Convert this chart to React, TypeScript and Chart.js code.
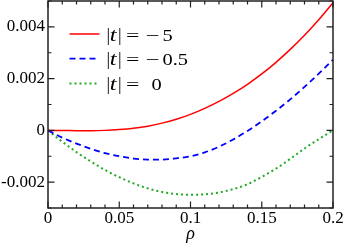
import React, { useEffect, useRef } from "react";
import { Chart, registerables } from "chart.js";

Chart.register(...registerables);

const rho = [0, 0.01, 0.02, 0.03, 0.04, 0.05, 0.06, 0.07, 0.08, 0.09, 0.1, 0.11, 0.12, 0.13, 0.14, 0.15, 0.16, 0.17, 0.18, 0.19, 0.2];
const seriesT5 = [0, 0, -0.00001, -0.00001, 0, 0.00003, 0.00008, 0.00016, 0.00028, 0.00043, 0.00062, 0.00085, 0.00112, 0.00143, 0.00178, 0.00218, 0.00263, 0.00313, 0.00368, 0.00428, 0.00493];
const seriesT05 = [0, -0.00028, -0.00051, -0.00071, -0.00088, -0.001, -0.00109, -0.00113, -0.00113, -0.00108, -0.001, -0.00085, -0.00063, -0.00035, -0.00002, 0.00035, 0.00076, 0.0012, 0.00168, 0.00219, 0.00273];
const seriesT0 = [0, -0.00044, -0.00084, -0.0012, -0.00153, -0.00181, -0.00205, -0.00224, -0.00238, -0.00246, -0.00249, -0.00247, -0.0024, -0.00227, -0.00208, -0.0018, -0.00148, -0.0011, -0.0007, -0.00034, 0];

const xTickValues = [0, 0.05, 0.1, 0.15, 0.2];
const xTickLabels = ["0", "0.05", "0.1", "0.15", "0.2"];
const yTickValues = [-0.002, 0, 0.002, 0.004];
const yTickLabels = ["-0.002", "0", "0.002", "0.004"];
const legendValues = ["\u22125", "\u22120.5", "0"];
const xTitle = "\u03c1";

const FONT = `"Liberation Serif", Tinos, "Times New Roman", serif`;

function labelFor(values: number[], labels: string[], v: number): string {
  const i = values.findIndex((t) => Math.abs(t - v) < 1e-9);
  return i >= 0 ? labels[i] : "";
}

const frameTicksPlugin = {
  id: "frameTicks",
  afterDatasetsDraw(chart: any) {
    const { ctx, chartArea: a } = chart;
    const xs = chart.scales.x;
    const ys = chart.scales.y;
    ctx.save();
    ctx.strokeStyle = "#222";
    ctx.lineWidth = 1.2;
    ctx.beginPath();
    xs.ticks.forEach((t: any) => {
      const major = labelFor(xTickValues, xTickLabels, t.value) !== "";
      const len = major ? 6.5 : 3.5;
      const px = xs.getPixelForValue(t.value);
      ctx.moveTo(px, a.bottom);
      ctx.lineTo(px, a.bottom - len);
      ctx.moveTo(px, a.top);
      ctx.lineTo(px, a.top + len);
    });
    ys.ticks.forEach((t: any) => {
      const major = labelFor(yTickValues, yTickLabels, t.value) !== "";
      const len = major ? 6.5 : 3.5;
      const py = ys.getPixelForValue(t.value);
      ctx.moveTo(a.left, py);
      ctx.lineTo(a.left + len, py);
      ctx.moveTo(a.right, py);
      ctx.lineTo(a.right - len, py);
    });
    ctx.stroke();
    ctx.lineWidth = 1.5;
    ctx.strokeRect(a.left, a.top, a.right - a.left, a.bottom - a.top);
    ctx.restore();
  },
};

const legendPlugin = {
  id: "mathLegend",
  afterDatasetsDraw(chart: any) {
    const { ctx, chartArea: a } = chart;
    ctx.save();
    chart.data.datasets.forEach((ds: any, i: number) => {
      const ly = a.top + 33 + i * 24.7;
      ctx.beginPath();
      ctx.strokeStyle = ds.borderColor;
      ctx.lineWidth = ds.borderWidth;
      ctx.setLineDash(ds.borderDash || []);
      ctx.moveTo(a.left + 21.5, ly);
      ctx.lineTo(a.left + 51.5, ly);
      ctx.stroke();
      ctx.setLineDash([]);

      const by = ly + 6.5;
      const x0 = a.left + 58.5;
      ctx.fillStyle = "#000";
      ctx.textBaseline = "alphabetic";
      ctx.textAlign = "left";
      const drawScaled = (s: string, x: number, sx: number, font: string) => {
        ctx.save();
        ctx.font = font;
        ctx.translate(x, by);
        ctx.scale(sx, 1);
        ctx.fillText(s, 0, 0);
        ctx.restore();
      };
      drawScaled("|", x0, 1, `18px ${FONT}`);
      drawScaled("t", x0 + 3.2, 1.35, `italic 18px ${FONT}`);
      drawScaled("|", x0 + 11.5, 1, `18px ${FONT}`);
      drawScaled("=", x0 + 19.5, 1.4, `17px ${FONT}`);
      const val = legendValues[i];
      if (val.startsWith("\u2212")) {
        drawScaled("\u2212", x0 + 39, 1.45, `17px ${FONT}`);
        drawScaled(val.slice(1), x0 + 56, 1.2, `17px ${FONT}`);
      } else {
        drawScaled(val, x0 + 45, 1.2, `17px ${FONT}`);
      }
    });
    ctx.restore();
  },
};

export default function App() {
  const ref = useRef<HTMLCanvasElement | null>(null);
  useEffect(() => {
    if (!ref.current) return;
    const mk = (arr: number[]) => rho.map((x, i) => ({ x, y: arr[i] }));
    const chart = new Chart(ref.current, {
      type: "line",
      data: {
        datasets: [
          { label: "|t| = \u22125", data: mk(seriesT5), borderColor: "#ff0000", borderWidth: 1.5, pointRadius: 0, cubicInterpolationMode: "monotone", fill: false },
          { label: "|t| = \u22120.5", data: mk(seriesT05), borderColor: "#0000ff", borderWidth: 1.8, borderDash: [6, 4], pointRadius: 0, cubicInterpolationMode: "monotone", fill: false },
          { label: "|t| = 0", data: mk(seriesT0), borderColor: "#22aa22", borderWidth: 2, borderDash: [2, 3], pointRadius: 0, cubicInterpolationMode: "monotone", fill: false },
        ] as any,
      },
      options: {
        animation: false,
        responsive: true,
        maintainAspectRatio: false,
        layout: { padding: { left: 0, right: 13, top: 1, bottom: 0 } },
        plugins: { legend: { display: false }, tooltip: { enabled: false } },
        scales: {
          x: {
            type: "linear",
            min: 0,
            max: 0.2,
            grid: { display: false, drawTicks: false },
            border: { display: false },
            ticks: {
              stepSize: 0.01,
              autoSkip: false,
              maxRotation: 0,
              padding: 0,
              color: "#000",
              font: { family: FONT, size: 17 },
              callback: (v: any) => labelFor(xTickValues, xTickLabels, Number(v)),
            },
            title: { display: true, text: xTitle, color: "#000", font: { family: FONT, size: 18, style: "italic" }, padding: 0 },
            afterFit: (s: any) => { s.height = 37; s.paddingLeft = 0; s.paddingRight = 0; },
          },
          y: {
            type: "linear",
            min: -0.003,
            max: 0.005,
            grid: { display: false, drawTicks: false },
            border: { display: false },
            ticks: {
              stepSize: 0.001,
              autoSkip: false,
              padding: 3,
              color: "#000",
              font: { family: FONT, size: 17 },
              callback: (v: any) => labelFor(yTickValues, yTickLabels, Number(v)),
            },
            afterFit: (s: any) => { s.width = 48; s.paddingTop = 0; s.paddingBottom = 0; },
          },
        },
      } as any,
      plugins: [frameTicksPlugin, legendPlugin],
    });
    return () => chart.destroy();
  }, []);
  return (
    <div style={{ position: "fixed", left: 0, top: 0, width: 346, height: 245 }}>
      <canvas ref={ref} />
    </div>
  );
}
